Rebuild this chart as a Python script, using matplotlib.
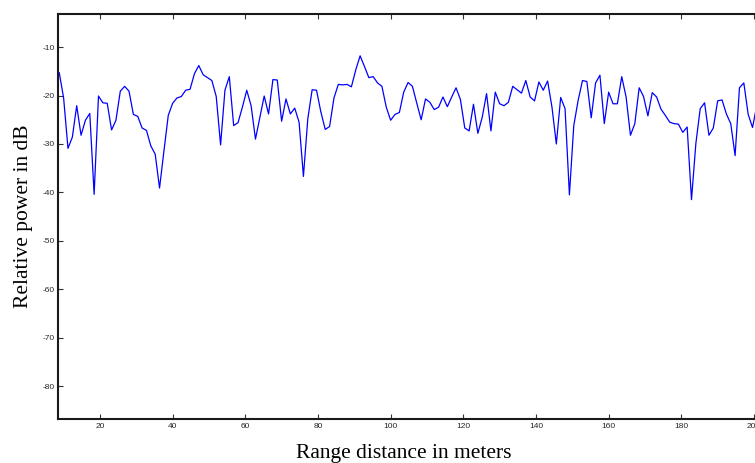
import numpy as np
import matplotlib.pyplot as plt

plt.rcParams['axes.unicode_minus'] = False

# range bins (m): first bin and bin spacing
range_start = 8.8
range_step = 1.2

# relative power per range bin (dB)
power_db = [
    -15.3, -20.5, -30.9, -28.6, -22.1, -28.2, -25.1, -23.7, -40.4, -20.1,
    -21.5, -21.6, -27.1, -25.1, -19.1, -18.1, -19.1, -23.9, -24.3, -26.7,
    -27.2, -30.4, -32.1, -39.1, -31.5, -24.1, -21.6, -20.5, -20.2, -18.9,
    -18.7, -15.5, -13.8, -15.7, -16.3, -16.9, -20.2, -30.2, -18.9, -16.1,
    -26.2, -25.6, -22.4, -18.9, -22.1, -29.0, -24.5, -20.1, -23.8, -16.7,
    -16.8, -25.3, -20.7, -23.8, -22.6, -25.5, -36.7, -24.8, -18.8, -18.9,
    -23.4, -27.0, -26.4, -20.5, -17.7, -17.8, -17.7, -18.2, -14.7, -11.8,
    -14.0, -16.3, -16.1, -17.4, -18.1, -22.4, -25.1, -23.9, -23.5, -19.3,
    -17.3, -18.1, -21.6, -25.0, -20.7, -21.4, -22.9, -22.4, -20.3, -22.3,
    -20.3, -18.4, -20.8, -26.7, -27.3, -21.8, -27.8, -24.5, -19.6, -27.3,
    -19.3, -21.7, -22.1, -21.4, -18.1, -18.8, -19.5, -16.9, -20.3, -21.1,
    -17.2, -18.9, -17.0, -22.4, -30.0, -20.4, -22.7, -40.5, -26.2, -21.0,
    -16.9, -17.1, -24.6, -17.4, -15.8, -25.8, -19.3, -21.7, -21.7, -16.1,
    -20.3, -28.2, -25.8, -18.4, -20.2, -24.2, -19.4, -20.3, -22.8, -24.1,
    -25.5, -25.8, -25.9, -27.6, -26.5, -41.5, -29.9, -22.7, -21.5, -28.2,
    -26.7, -21.1, -20.9, -23.8, -25.8, -32.4, -18.4, -17.4, -23.9, -26.6,
    -21.9,
]
range_m = range_start + range_step * np.arange(len(power_db))

x_ticks = [20, 40, 60, 80, 100, 120, 140, 160, 180, 200]
y_ticks = [-80, -70, -60, -50, -40, -30, -20, -10]

fig = plt.figure(figsize=(7.55, 4.63), dpi=100)
# axes run past the right edge, as in the (cropped) original
ax = fig.add_axes([0.0768, 0.095, 0.970, 0.8754])

ax.plot(range_m, power_db, color='#0000ff', lw=0.9)

ax.set_xlim(8.45, 210)
ax.set_ylim(-86.8, -3.1)
ax.set_xticks(x_ticks)
ax.set_yticks(y_ticks)

for s in ax.spines.values():
    s.set_linewidth(1.5)
    s.set_color('#1a1a1a')

ax.tick_params(direction='in', length=3.6, width=0.8, color='#333333',
               labelsize=6, labelcolor='#262626', top=True, right=True)
ax.tick_params(axis='x', pad=3)
ax.tick_params(axis='y', pad=2.5)
for lab in ax.get_xticklabels() + ax.get_yticklabels():
    lab.set_family('Liberation Sans')

fig.text(404 / 755, 5 / 463, 'Range distance in meters', family='Liberation Serif',
         fontsize=15.5, ha='center', va='baseline')
fig.text(24 / 755, 1 - 216 / 463, 'Relative power in dB', family='Liberation Serif',
         fontsize=15.5, ha='center', va='center', rotation=90)

plt.savefig('out.png', dpi=100)
